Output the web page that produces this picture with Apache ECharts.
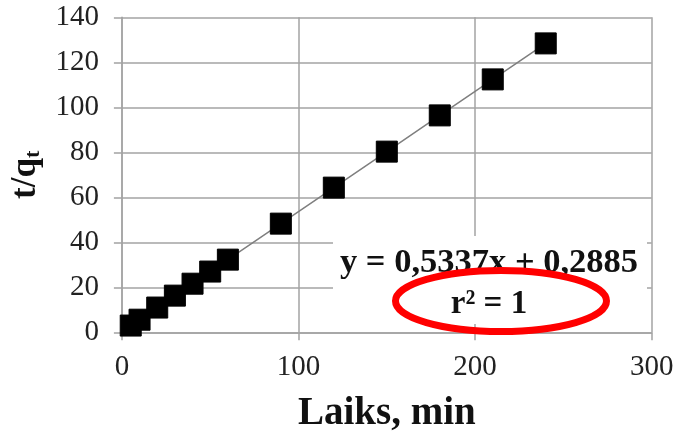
<!DOCTYPE html>
<html>
<head>
<meta charset="utf-8">
<script src="https://cdn.jsdelivr.net/npm/echarts@6/dist/echarts.min.js"></script>
<style>
html,body{margin:0;padding:0;background:#fff;}
#chart{width:683px;height:439px;}
</style>
</head>
<body>
<div id="chart"></div>
<script>
// Data
var timeMin = [5, 10, 20, 30, 40, 50, 60, 90, 120, 150, 180, 210, 240];
var tOverQ  = [3.0, 5.6, 11.0, 16.3, 21.6, 27.0, 32.3, 48.3, 64.3, 80.3, 96.4, 112.4, 128.4];
var xTicks = [0, 100, 200, 300];
var yTicks = [0, 20, 40, 60, 80, 100, 120, 140];
var equationText = 'y = 0,5337x + 0,2885';
var r2Text = 'r\u00B2 = 1';
var xTitle = 'Laiks, min';

var points = timeMin.map(function (t, i) { return [t, tOverQ[i]]; });
var FONT = '"Liberation Serif", "Times New Roman", serif';
var GRID = '#a3a3a3';

var chart = echarts.init(document.getElementById('chart'), null, {renderer: 'canvas'});
chart.setOption({
  backgroundColor: '#ffffff',
  animation: false,
  grid: {left: 120.7, right: 31.3, top: 17.3, bottom: 106.7, containLabel: false},
  xAxis: {
    type: 'value', min: xTicks[0], max: xTicks[xTicks.length - 1], interval: 100,
    name: xTitle, nameLocation: 'middle', nameGap: 62,
    nameTextStyle: {fontFamily: FONT, fontSize: 39, fontWeight: 'bold', color: '#111'},
    axisLine: {show: true, lineStyle: {color: GRID, width: 1.5}},
    axisTick: {show: true, length: 8, lineStyle: {color: GRID, width: 1.5}},
    axisLabel: {fontFamily: FONT, fontSize: 29, color: '#222', margin: 21},
    splitLine: {show: true, lineStyle: {color: GRID, width: 1.5}}
  },
  yAxis: {
    type: 'value', min: yTicks[0], max: yTicks[yTicks.length - 1], interval: 20,
    name: '{a|t/q}{b|t}', nameLocation: 'middle', nameGap: 77, nameRotate: 90,
    nameTextStyle: {
      fontFamily: FONT, fontWeight: 'bold', color: '#111',
      rich: {
        a: {fontFamily: FONT, fontSize: 35, fontWeight: 'bold', color: '#111'},
        b: {fontFamily: FONT, fontSize: 22, fontWeight: 'bold', color: '#111', padding: [16, 0, 0, 0]}
      }
    },
    axisLine: {show: true, lineStyle: {color: GRID, width: 1.5}},
    axisTick: {show: true, length: 8, lineStyle: {color: GRID, width: 1.5}},
    axisLabel: {fontFamily: FONT, fontSize: 29, color: '#222', margin: 23},
    splitLine: {show: true, lineStyle: {color: GRID, width: 1.5}}
  },
  series: [{
    type: 'line',
    data: points,
    symbol: 'rect',
    symbolSize: 21,
    showAllSymbol: true,
    lineStyle: {color: '#7f7f7f', width: 1.5},
    itemStyle: {color: '#000000', borderColor: '#000000'},
    z: 3
  }],
  graphic: [
    {type: 'rect', shape: {x: 333, y: 236, width: 314, height: 88}, style: {fill: '#ffffff'}, z: 50},
    {type: 'text', x: 489, y: 263, z: 51, style: {text: equationText, fontFamily: FONT, fontSize: 34.5, fontWeight: 'bold', fill: '#111', align: 'center', verticalAlign: 'middle'}},
    {type: 'text', x: 489, y: 304, z: 51, style: {text: r2Text, fontFamily: FONT, fontSize: 33, fontWeight: 'bold', fill: '#111', align: 'center', verticalAlign: 'middle'}},
    {type: 'ellipse', shape: {cx: 501, cy: 301, rx: 105.5, ry: 30.5}, style: {fill: 'none', stroke: '#ff0000', lineWidth: 7}, z: 52}
  ]
});
</script>
</body>
</html>
